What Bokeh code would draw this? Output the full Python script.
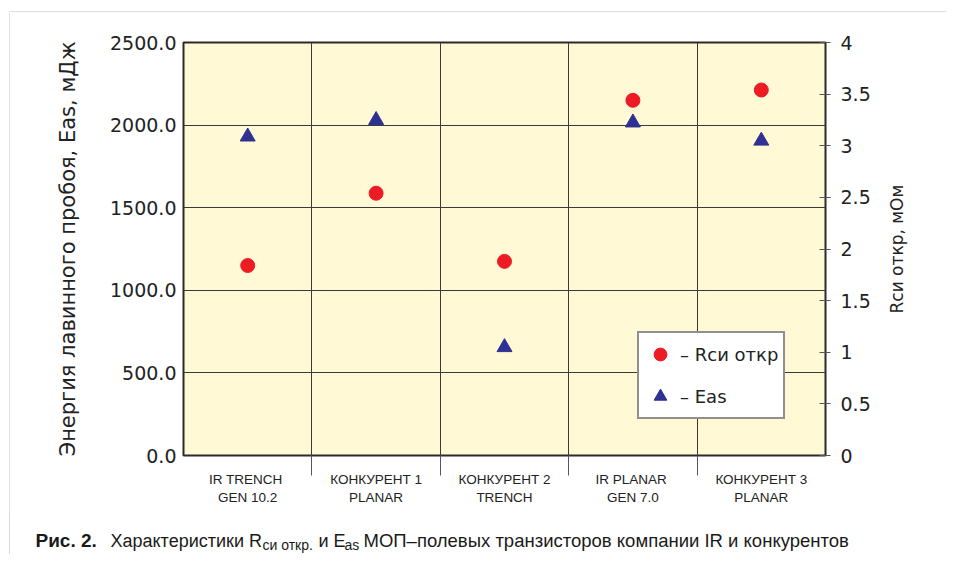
import math
from bokeh.plotting import figure
from bokeh.layouts import column, row
from bokeh.models import (Range1d, LinearAxis, FixedTicker, Label, Legend, LegendItem,
                          NumeralTickFormatter, BoxAnnotation)
from bokeh.embed import file_html
from bokeh.resources import INLINE

# ---------------- data ----------------
categories = ["IR  TRENCH\nGEN 10.2", "КОНКУРЕНТ 1\nPLANAR", "КОНКУРЕНТ 2\nTRENCH",
              "IR  PLANAR\nGEN 7.0", "КОНКУРЕНТ 3\nPLANAR"]
eas_values = [1930, 2030, 655, 2015, 1905]          # mJ, left axis
rds_values = [1.84, 2.54, 1.88, 3.44, 3.54]         # mOhm, right axis
left_ticks = [0, 500, 1000, 1500, 2000, 2500]
right_ticks = [0, 0.5, 1, 1.5, 2, 2.5, 3, 3.5, 4]
category_edges = [1, 2, 3, 4]
right_title = "Rси откр, мОм"
right_title_start = 1.375          # where the rotated right-axis title begins (right-axis units)

xs = [i + 0.5 for i in range(len(categories))]

AXFONT = "DejaVu Sans"
CAPFONT = "Liberation Sans"
FRAME_COLOR = "#8a8a8a"


def strip(w, h):
    f = figure(width=w, height=h, x_range=Range1d(0, 1), y_range=Range1d(0, 1),
               output_backend="svg", toolbar_location=None, x_axis_type=None, y_axis_type=None,
               min_border=0, outline_line_color=None, background_fill_color="white",
               border_fill_color="white")
    f.grid.visible = False
    try:
        f.frame_align = False
    except Exception:
        pass
    return f


def frame_box(left_px, top_px):
    return BoxAnnotation(left=left_px, right=5000, top=top_px, bottom=-5000,
                         left_units="screen", right_units="screen",
                         top_units="screen", bottom_units="screen",
                         fill_alpha=0, line_color=FRAME_COLOR, line_width=1)


STRIP_W = 10
p = figure(width=946 - STRIP_W, height=498, x_range=Range1d(0, len(categories)),
           y_range=Range1d(0, 2500),
           output_backend="svg", toolbar_location=None,
           min_border_left=183 - STRIP_W, min_border_right=121, min_border_top=30,
           min_border_bottom=55,
           background_fill_color="#FFF9D5", border_fill_color="white",
           outline_line_color="#2a2a2a", outline_line_width=2)
try:
    p.frame_align = False
except Exception:
    pass
p.extra_y_ranges = {"r": Range1d(0, 4)}

# x axis: category names at centres, boundary ticks as minor ticks
xa = p.xaxis[0]
xa.ticker = FixedTicker(ticks=xs, minor_ticks=category_edges)
xa.major_label_overrides = {x: c for x, c in zip(xs, categories)}
xa.major_tick_out = 0
xa.major_tick_in = 0
xa.minor_tick_out = 20
xa.minor_tick_in = 0
xa.minor_tick_line_color = "#555555"
xa.axis_line_color = None
xa.major_label_standoff = -4
xa.major_label_text_font = CAPFONT
xa.major_label_text_font_size = "13.5px"
xa.major_label_text_color = "#222222"
xa.major_label_text_line_height = 1.2

p.xgrid.ticker = FixedTicker(ticks=category_edges)
p.xgrid.grid_line_color = "#3a3a3a"
p.xgrid.grid_line_width = 1
p.ygrid.grid_line_color = "#3a3a3a"
p.ygrid.grid_line_width = 1

ya = p.yaxis[0]
ya.ticker = FixedTicker(ticks=left_ticks)
ya.formatter = NumeralTickFormatter(format="0.0")
ya.major_tick_in = 0
ya.major_tick_out = 0
ya.minor_tick_line_color = None
ya.axis_line_color = None
ya.major_label_standoff = 7
ya.major_label_text_font = AXFONT
ya.major_label_text_font_size = "19px"
ya.major_label_text_color = "#222222"
ya.axis_label = "Энергия лавинного пробоя, Eas, мДж"
ya.axis_label_text_font = AXFONT
ya.axis_label_text_font_size = "21px"
ya.axis_label_text_font_style = "normal"
ya.axis_label_text_color = "#222222"
ya.axis_label_standoff = 27

# right axis with numbers
ra = LinearAxis(y_range_name="r", ticker=FixedTicker(ticks=right_ticks),
                formatter=NumeralTickFormatter(format="0.[0]"))
ra.major_tick_in = 6
ra.major_tick_out = 5
ra.major_tick_line_color = "#555555"
ra.minor_tick_line_color = None
ra.axis_line_color = None
ra.major_label_standoff = 10
ra.major_label_text_font = AXFONT
ra.major_label_text_font_size = "19px"
ra.major_label_text_color = "#222222"
p.add_layout(ra, "right")

# right-axis title drawn as a rotated tick label (reads bottom-to-top)
rl = LinearAxis(y_range_name="r", ticker=FixedTicker(ticks=[right_title_start]))
rl.major_label_overrides = {right_title_start: right_title}
rl.major_label_orientation = math.pi / 2
rl.axis_line_color = None
rl.major_tick_line_color = None
rl.minor_tick_line_color = None
rl.major_tick_out = 0
rl.major_tick_in = 0
rl.major_label_standoff = 23
rl.major_label_text_font = AXFONT
rl.major_label_text_font_size = "17px"
rl.major_label_text_color = "#222222"
p.add_layout(rl, "right")

r_tri = p.scatter(xs, eas_values, marker="triangle", size=15, color="#2E3192")
r_circ = p.scatter(xs, rds_values, marker="circle", size=14, color="#ED1C24", y_range_name="r")

legend = Legend(items=[LegendItem(label="– Rси откр", renderers=[r_circ]),
                       LegendItem(label="– Eas", renderers=[r_tri])],
                location=(454, 36), orientation="vertical",
                border_line_color="#222222", border_line_width=2,
                background_fill_color="white", background_fill_alpha=1.0,
                label_text_font=AXFONT, label_text_font_size="18px", label_text_color="#222222",
                glyph_width=32, glyph_height=32, label_height=20, spacing=10,
                padding=5, margin=0, label_standoff=4)
p.add_layout(legend)

# ---------------- frame strips (grey page frame: top and left lines) ----------------
top = strip(946, 12)
top.add_layout(frame_box(9, 1))

# left strip: white frame with a 1px grey border area on its right = the frame line
left = strip(STRIP_W, 498)
left.min_border_left = 0
left.min_border_top = 0
left.min_border_bottom = 0
left.min_border_right = 1
left.border_fill_color = FRAME_COLOR
left.background_fill_color = "white"

# ---------------- caption strip ----------------
cap = strip(946, 44)
cap.add_layout(frame_box(9, 5000))
cap_y = 14
caption_parts = [
    (35, 0, "Рис. 2.", "19px", "bold"),
    (110, 0, "Характеристики R", "18px", "normal"),
    (262, -4, "си откр.", "14px", "normal"),
    (318, 0, "и E", "18px", "normal"),
    (344, -4, "as", "14px", "normal"),
    (363, 0, "МОП–полевых транзисторов компании IR и конкурентов", "18.5px", "normal"),
]
for cx, dy, txt, fs, style in caption_parts:
    cap.add_layout(Label(x=cx, y=cap_y + dy, x_units="screen", y_units="screen", text=txt,
                         text_align="left", text_baseline="alphabetic", text_font=CAPFONT,
                         text_font_size=fs, text_font_style=style, text_color="#1a1a1a"))

layout = column(top, row(left, p, spacing=0), cap, spacing=0)

open("out.html", "w").write(file_html(layout, INLINE))
